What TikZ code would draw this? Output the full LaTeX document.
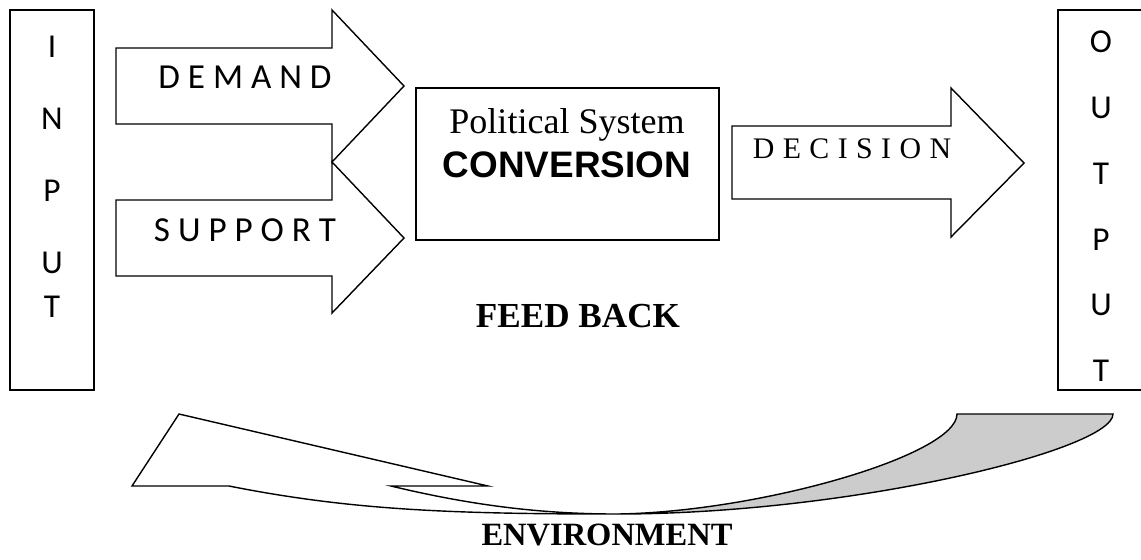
\documentclass[tikz,border=0pt]{standalone}
\usepackage{fontspec}
\setmainfont{Liberation Serif}
\newfontfamily\calfont{Carlito}
\newfontfamily\arialfont{Liberation Sans}
\usetikzlibrary{positioning}

\begin{document}
\begin{tikzpicture}[
    x=0.02cm, y=-0.02cm,
    box/.style={rectangle, draw, line width=0.8pt, inner sep=0pt},
    blockarr/.style={draw, line width=0.8pt, fill=white, line join=miter},
    letter/.style={font=\calfont\fontsize{19}{21}\selectfont, inner sep=0pt},
    arrtext/.style={font=\calfont\fontsize{20}{22}\selectfont, inner sep=0pt, anchor=base},
    every node/.style={text=black}
  ]

  % ---- Page ----
  \clip (0,0) rectangle (1141,559);

  % ============ BOXES ============

  % Input (left)
  \node[box, minimum width=1.68cm, minimum height=7.6cm] (input) at (52,200) {};
  \foreach \ch/\yy [count=\i] in {I/47, N/119, P/191, U/263, T/307}
    \node[letter] (in\i) at (52,\yy) {\ch};

  % Output (right, runs off the edge)
  \node[box, minimum width=1.84cm, minimum height=7.6cm] (output) at (1104,200) {};
  \foreach \ch/\yy [count=\i] in {O/42, U/108, T/174, P/240, U/305, T/371}
    \node[letter] (out\i) at (1101,\yy) {\ch};

  % Political system (centre)
  \node[box, minimum width=6.06cm, minimum height=3.04cm] (polsys) at (567.5,164) {};
  \node[anchor=base, font=\fontsize{20.5}{22}\selectfont, inner sep=0pt]
    (poltitle) at (567,133) {Political System};
  \node[anchor=base, font=\arialfont\bfseries\fontsize{21}{23}\selectfont, inner sep=0pt]
    (conv) at (567,177) {CONVERSION};

  % ============ BLOCK ARROWS ============

  % Demand
  \draw[blockarr] (116,48) -- (332,48) -- (332,10) -- (404,86)
    -- (332,162) -- (332,124) -- (116,124) -- cycle;
  \node[arrtext] (demand) at (245,88) {D E M A N D};

  % Support
  \draw[blockarr] (116,200) -- (332,200) -- (332,162) -- (404,238)
    -- (332,313) -- (332,276) -- (116,276) -- cycle;
  \node[arrtext] (support) at (245,241) {S U P P O R T};

  % Decision
  \draw[blockarr] (732,126) -- (951,126) -- (951,88) -- (1024,163)
    -- (951,237) -- (951,199) -- (732,199) -- cycle;
  \node[anchor=base, font=\fontsize{17}{19}\selectfont, inner sep=0pt]
    (decision) at (852,158)
    {D\hspace{4.8pt}E\hspace{4.8pt}C\hspace{4.8pt}I\hspace{4.8pt}S\hspace{4.8pt}I\hspace{4.8pt}O\hspace{4.8pt}N};

  % ============ FEEDBACK ============
  \node[anchor=base, font=\bfseries\fontsize{20}{22}\selectfont, inner sep=0pt]
    (feedback) at (578,327) {FEED BACK};

  % back face of the curved arrow (grey)
  \fill[black!20] (617,514) .. controls (760,512) and (957,455) .. (957,414)
    -- (1113,414) .. controls (1113,450) and (850,514) .. (617,514) -- cycle;
  \draw[line width=0.8pt] (617,514) .. controls (760,512) and (957,455) .. (957,414)
    -- (1113,414) .. controls (1113,450) and (850,514) .. (617,514);

  % front face with the head pointing left
  \draw[line width=0.8pt, fill=white, line join=miter]
    (132,486) -- (179,414) -- (488,486) -- (391,486)
    .. controls (470,505) and (540,514) .. (617,514)
    .. controls (450,514) and (350,510) .. (229,486) -- cycle;

  \node[anchor=base, font=\bfseries\fontsize{18.5}{20}\selectfont, inner sep=0pt]
    (environment) at (607,545) {ENVIRONMENT};

\end{tikzpicture}
\end{document}
